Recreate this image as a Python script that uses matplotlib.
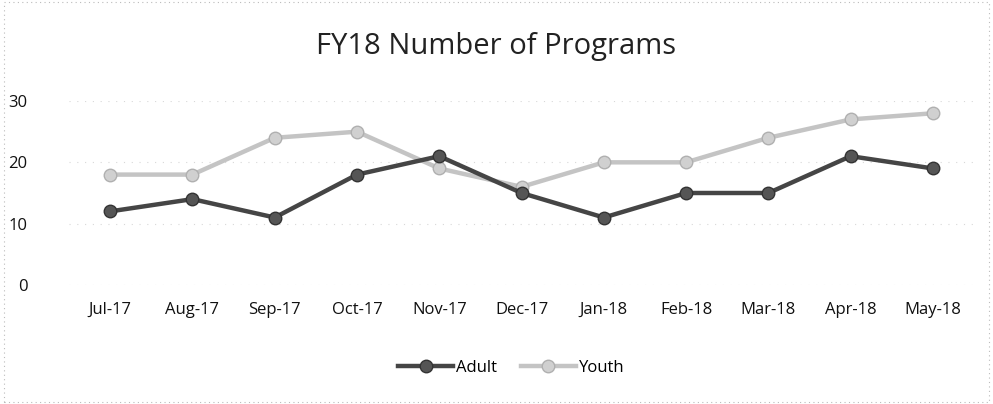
import matplotlib.pyplot as plt

months = ["Jul-17", "Aug-17", "Sep-17", "Oct-17", "Nov-17", "Dec-17",
          "Jan-18", "Feb-18", "Mar-18", "Apr-18", "May-18"]
adult = [12, 14, 11, 18, 21, 15, 11, 15, 15, 21, 19]
youth = [18, 18, 24, 25, 19, 16, 20, 20, 24, 27, 28]
yticks = [0, 10, 20, 30]

plt.rcParams["font.family"] = ["Open Sans", "DejaVu Sans"]

fig = plt.figure(figsize=(9.93, 4.04), dpi=100)
ax = fig.add_axes([0.0695, 0.2946, 0.9115, 0.4554])

x = list(range(len(months)))
ax.plot(x, youth, color="#c4c4c4", linewidth=3.2, marker="o", markersize=9,
        markerfacecolor="#d0d0d0", markeredgecolor="#b0b0b0", label="Youth", zorder=2)
ax.plot(x, adult, color="#454545", linewidth=3.2, marker="o", markersize=9,
        markerfacecolor="#555555", markeredgecolor="#333333", label="Adult", zorder=3)

ax.set_xlim(-0.5, len(months) - 0.5)
ax.set_ylim(0, 30)
ax.set_yticks(yticks)
ax.set_xticks(x)
ax.set_xticklabels(months)
ax.tick_params(axis="both", length=0, labelsize=12, colors="#111111")
ax.tick_params(axis="x", pad=12)
ax.tick_params(axis="y", pad=30)
ax.grid(axis="y", color="#d8d8d8", linewidth=0.8, linestyle=(0, (1, 6)))
for s in ax.spines.values():
    s.set_visible(False)

fig.text(0.5, 0.885, "FY18 Number of Programs", ha="center", va="center",
         fontsize=21, color="#222222")

handles, labels = ax.get_legend_handles_labels()
fig.legend(handles[::-1], labels[::-1], loc="center", bbox_to_anchor=(0.515, 0.09),
           ncol=2, frameon=False, fontsize=12, handlelength=3.3, columnspacing=1.4,
           handletextpad=0.2)

border = plt.Rectangle((0.004, 0.005), 0.992, 0.99, transform=fig.transFigure,
                       fill=False, edgecolor="#bbbbbb", linewidth=0.8,
                       linestyle=(0, (1, 3)))
fig.patches.append(border)

fig.savefig("out.png", dpi=100)
